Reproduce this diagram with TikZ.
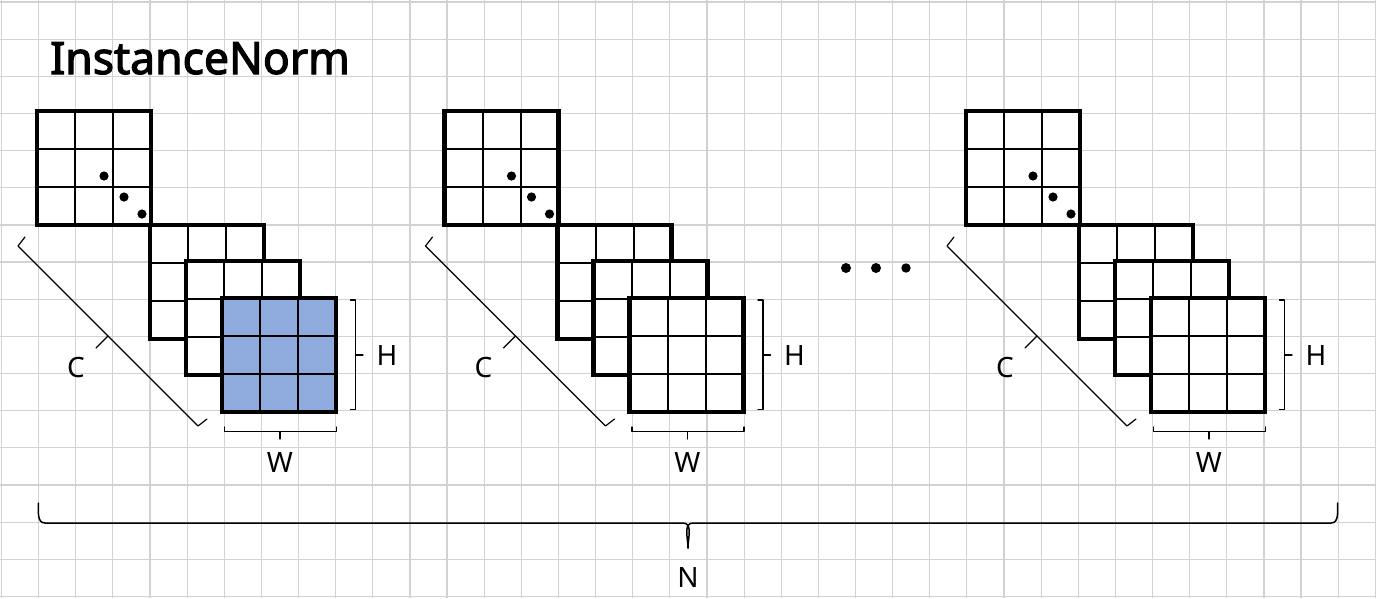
\documentclass[tikz,border=0pt]{standalone}
\usepackage{fontspec}
\setmainfont{Noto Sans}
\newfontfamily\titlefont{Noto Sans}[FakeBold=2.6]
\definecolor{gridgray}{RGB}{210,210,210}
\definecolor{mapblue}{RGB}{143,170,220}
\tikzset{
  gridline/.style={draw=gridgray, line width=1.2pt},
  cellline/.style={draw=black, line width=2pt},
  mapborder/.style={draw=black, line width=4.7pt, line join=miter},
  bracket/.style={draw=black, line width=1.2pt, line join=round, line cap=round},
  lbl/.style={inner sep=0pt, font=\fontsize{28}{30}\selectfont},
  titlelbl/.style={inner sep=0pt, font=\titlefont\fontsize{44.5}{48}\selectfont},
}
\newcommand{\fmap}[3]{%
  \fill[#3] (#1,#2) rectangle ++(114,114);
  \foreach \k in {1,2} {
    \draw[cellline] ({#1+38*\k},#2) -- ++(0,114);
    \draw[cellline] (#1,{#2+38*\k}) -- ++(114,0);
  }
  \draw[mapborder] (#1,#2) rectangle ++(114,114);
}
\newcommand{\fmgroup}[3]{%
\begin{scope}[xshift=#1pt]
  \fmap{37}{111}{white}
  \fmap{150}{225}{white}
  \fmap{186}{261}{white}
  \fmap{222}{298}{#3}
  \fill (104,176) circle (4.6pt);
  \fill (124,197) circle (4.6pt);
  \fill (142,214) circle (4.6pt);
  % C bracket
  \coordinate (ca#2) at (18,246);
  \coordinate (cb#2) at (198,426);
  \coordinate (cm#2) at (108,336);
  \draw[bracket] (25,237) -- (ca#2) -- (cb#2) -- (207,419);
  \draw[bracket] (cm#2) -- (96,348);
  \node[lbl] (C#2) at (76,367) {C};
  % H bracket
  \coordinate (ha#2) at (355.5,300);
  \coordinate (hb#2) at (355.5,409.5);
  \coordinate (hm#2) at (355.5,355);
  \draw[bracket] (350.5,300) -- (ha#2) -- (hb#2) -- (350.5,409.5);
  \draw[bracket] (hm#2) -- (363,355);
  \node[lbl] (H#2) at (387,355) {H};
  % W bracket
  \coordinate (wa#2) at (224.5,431.5);
  \coordinate (wb#2) at (336.5,431.5);
  \coordinate (wm#2) at (280,431.5);
  \draw[bracket] (224.5,427) -- (wa#2) -- (wb#2) -- (336.5,427);
  \draw[bracket] (wm#2) -- (280,439);
  \node[lbl] (W#2) at (280,462) {W};
\end{scope}}
\begin{document}
\begin{tikzpicture}[x=1pt,y=-1pt]
  \useasboundingbox (0,0) rectangle (1376,598);
  \fill[white] (0,0) rectangle (1376,598);
  \foreach \i in {0,...,37} \draw[gridline] ({1.5+37.13*\i},0) -- ({1.5+37.13*\i},598);
  \foreach \j in {0,...,16} \draw[gridline] (0,{2+37.15*\j}) -- (1376,{2+37.15*\j});
  \node[titlelbl, anchor=base west] (title) at (50,74) {InstanceNorm};
  \fmgroup{0}{a}{mapblue}
  \fmgroup{407.5}{b}{white}
  \fmgroup{929}{c}{white}
  % ellipsis dots
  \fill (846,268) circle (5pt);
  \fill (876,268) circle (5pt);
  \fill (906,268) circle (4.7pt);
  % N brace
  \coordinate (na) at (38.5,503);
  \coordinate (nm) at (688,548);
  \coordinate (nb) at (1337.5,503);
  \draw[bracket, line width=1.5pt] (na) to[out=-90,in=180] (45,523) -- (683,523)
     to[out=0,in=90] (nm);
  \draw[bracket, line width=1.5pt] (nm) to[out=90,in=180] (693,523) -- (1331,523)
     to[out=0,in=-90] (nb);
  \node[lbl] (N) at (688,577) {N};
\end{tikzpicture}
\end{document}
